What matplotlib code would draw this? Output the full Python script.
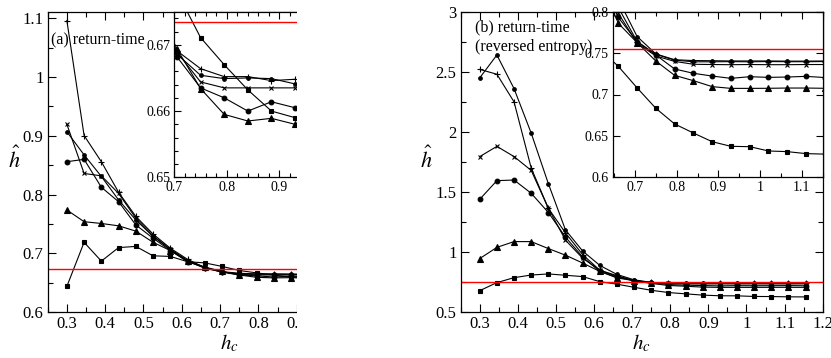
import numpy as np
import matplotlib
matplotlib.use('Agg')
import matplotlib.pyplot as plt
from matplotlib.ticker import MultipleLocator, FuncFormatter
from matplotlib.patches import Rectangle

plt.rcParams['font.family'] = ['Liberation Serif', 'DejaVu Serif']
plt.rcParams['mathtext.fontset'] = 'stix'

# ---- (a) return-time
hc_a = [0.3, 0.345, 0.39, 0.435, 0.48, 0.525, 0.57, 0.615, 0.66, 0.705,
        0.75, 0.795, 0.84, 0.885, 0.93]
a_plus = [1.096, 0.9005, 0.856, 0.804, 0.763, 0.733, 0.709, 0.690, 0.676, 0.6691,
          0.6664, 0.6652, 0.6652, 0.6646, 0.6648]
a_x = [0.9197, 0.836, 0.832, 0.802, 0.760, 0.730, 0.707, 0.688, 0.6755, 0.6689,
       0.6644, 0.6635, 0.6635, 0.6635, 0.6635]
a_dot = [0.907, 0.8676, 0.831, 0.791, 0.757, 0.729, 0.707, 0.687, 0.675, 0.6686,
         0.6654, 0.6649, 0.665, 0.6649, 0.6641]
a_circ = [0.856, 0.860, 0.8126, 0.788, 0.7485, 0.726, 0.705, 0.686, 0.676, 0.6682,
          0.6635, 0.662, 0.660, 0.6614, 0.6605]
a_tri = [0.774, 0.754, 0.751, 0.747, 0.738, 0.719, 0.705, 0.687, 0.677, 0.6694,
         0.6634, 0.6595, 0.6585, 0.6589, 0.658]
a_sq = [0.644, 0.719, 0.687, 0.710, 0.712, 0.696, 0.695, 0.686, 0.684, 0.678,
        0.6711, 0.667, 0.6632, 0.660, 0.659]
ref_a = 0.6735

# ---- (b) return-time (reversed entropy)
hc_b = [0.3, 0.345, 0.39, 0.435, 0.48, 0.525, 0.57, 0.615, 0.66, 0.705,
        0.75, 0.795, 0.84, 0.885, 0.93, 0.975, 1.02, 1.065, 1.11, 1.155]
b_dot = [2.45, 2.64, 2.36, 1.99, 1.57, 1.185, 1.01, 0.89, 0.815, 0.770,
         0.749, 0.742, 0.741, 0.7408, 0.7405, 0.7405, 0.7405, 0.7403, 0.7403, 0.7405]
b_plus = [2.52, 2.48, 2.25, 1.70, 1.365, 1.16, 0.98, 0.85, 0.805, 0.764,
          0.7485, 0.7415, 0.7395, 0.7395, 0.7397, 0.7395, 0.7398, 0.7396, 0.7396, 0.7398]
b_x = [1.795, 1.88, 1.795, 1.68, 1.365, 1.10, 0.95, 0.85, 0.798, 0.762,
       0.7465, 0.740, 0.7365, 0.7362, 0.736, 0.7362, 0.736, 0.736, 0.7362, 0.7362]
b_circ = [1.44, 1.595, 1.60, 1.49, 1.33, 1.125, 0.96, 0.84, 0.793, 0.7638,
          0.7477, 0.7308, 0.7256, 0.7223, 0.7195, 0.7215, 0.7207, 0.7211, 0.7219, 0.7205]
b_tri = [0.947, 1.04, 1.088, 1.088, 1.03, 0.975, 0.91, 0.84, 0.786, 0.7626,
         0.7404, 0.7231, 0.7167, 0.7095, 0.7074, 0.7074, 0.7075, 0.7078, 0.7078, 0.7075]
b_sq = [0.68, 0.747, 0.788, 0.81, 0.819, 0.808, 0.797, 0.755, 0.734, 0.708,
        0.6833, 0.6644, 0.6535, 0.643, 0.6374, 0.637, 0.6318, 0.631, 0.6286, 0.628]
ref_b = 0.7546

PLUS, CROSS, DOT, CIRC, TRI, SQ = ('+', 4.5), ('x', 3.2), ('o', 2.6), ('o', 3.4), ('^', 4), ('s', 3.4)

W, H = 831.0, 358.0
fig = plt.figure(figsize=(W / 100, H / 100), dpi=100)

def box(x0, y0, x1, y1):
    # pixel box (top-left origin) -> figure fraction
    return [x0 / W, 1 - y1 / H, (x1 - x0) / W, (y1 - y0) / H]

fmt = FuncFormatter(lambda v, p: '%g' % round(v, 4))

def style(ax, mx, nx, my, ny, fs, big=True):
    ax.xaxis.set_major_locator(MultipleLocator(mx))
    ax.xaxis.set_minor_locator(MultipleLocator(nx))
    ax.yaxis.set_major_locator(MultipleLocator(my))
    if ny:
        ax.yaxis.set_minor_locator(MultipleLocator(ny))
    ax.xaxis.set_major_formatter(fmt)
    ax.yaxis.set_major_formatter(fmt)
    ax.tick_params(which='both', direction='in', top=True, right=True,
                   labelsize=fs, width=0.8, pad=3)
    ax.tick_params(which='major', length=6 if big else 5)
    ax.tick_params(which='minor', length=3.5 if big else 3)
    for s in ax.spines.values():
        s.set_linewidth(0.9)

def draw(ax, hc, series, marks, ref):
    for y, (m, ms) in zip(series, marks):
        ax.plot(hc, y, '-', color='black', lw=0.8, marker=m, ms=ms,
                mew=0.8, mfc='black', mec='black')
    ax.axhline(ref, color='red', lw=1.0)

set_a = [a_plus, a_x, a_dot, a_circ, a_tri, a_sq]
marks_a = [PLUS, CROSS, DOT, CIRC, TRI, SQ]
set_b = [b_dot, b_plus, b_x, b_circ, b_tri, b_sq]
marks_b = [DOT, PLUS, CROSS, CIRC, TRI, SQ]

# left panel
ax1 = fig.add_axes(box(47.7, 11.7, 411.7, 312.3))
draw(ax1, hc_a, set_a, marks_a, ref_a)
ax1.set_xlim(0.25, 1.2)
ax1.set_ylim(0.6, 1.111)
style(ax1, 0.1, 0.05, 0.1, 0.05, 12)
ax1.set_xlabel(r'$h_c$', fontsize=15, labelpad=0)
ax1.text(0.258, 1.063, '(a) return-time', fontsize=11.5, ha='left', va='center')

ins1 = fig.add_axes(box(174.3, 11.7, 384.3, 177.3))
draw(ins1, hc_a, set_a, marks_a, ref_a)
ins1.set_xlim(0.7, 1.1)
ins1.set_ylim(0.65, 0.675)
style(ins1, 0.1, 0.02, 0.01, 0.002, 10, big=False)

# right panel
ax2 = fig.add_axes(box(460.7, 11.7, 822.7, 312.3))
draw(ax2, hc_b, set_b, marks_b, ref_b)
ax2.set_xlim(0.25, 1.2)
ax2.set_ylim(0.5, 3.0)
style(ax2, 0.1, 0.05, 0.5, 0.25, 12)
ax2.set_xlabel(r'$h_c$', fontsize=15, labelpad=0)
ax2.text(0.2875, 2.87, '(b) return-time', fontsize=11.5, ha='left', va='center')
ax2.text(0.2875, 2.71, '(reversed entropy)', fontsize=11.5, ha='left', va='center')

ins2 = fig.add_axes(box(612.7, 11.7, 822.7, 177.3))
draw(ins2, hc_b, set_b, marks_b, ref_b)
ins2.set_xlim(0.6465, 1.15)
ins2.set_ylim(0.6, 0.8)
style(ins2, 0.1, 0.05, 0.05, None, 10, big=False)

# the left panel is cut off at the right
fig.add_artist(Rectangle((297 / W, 0), (421 - 297) / W, 1, transform=fig.transFigure,
                         facecolor='white', edgecolor='none', zorder=10))

# y labels
fig.text(14 / W, 1 - 160 / H, r'$\hat{h}$', fontsize=16, ha='center', va='center', zorder=11)
fig.text(426 / W, 1 - 160 / H, r'$\hat{h}$', fontsize=16, ha='center', va='center', zorder=11)

fig.savefig('out.png', dpi=100)
